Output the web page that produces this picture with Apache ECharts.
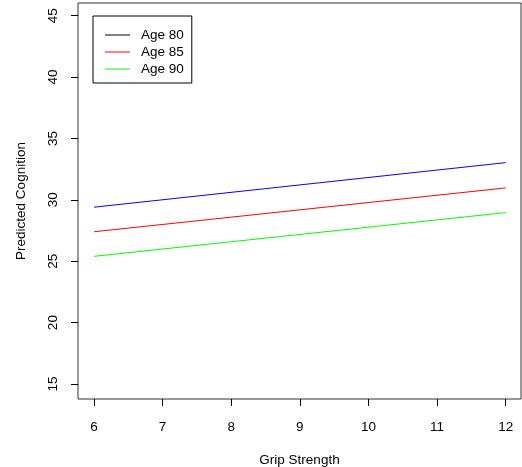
<!DOCTYPE html>
<html>
<head>
<meta charset="utf-8">
<script src="https://cdn.jsdelivr.net/npm/echarts@6/dist/echarts.min.js"></script>
<style>
html,body{margin:0;padding:0;background:#fff;}
#chart{width:522px;height:467px;}
</style>
</head>
<body>
<div id="chart"></div>
<script>
var gripStrength = [6, 12];
var age80 = [29.4, 33.03];
var age85 = [27.4, 30.97];
var age90 = [25.4, 28.96];
var seriesNames = ['Age 80', 'Age 85', 'Age 90'];
var xTicks = [6, 7, 8, 9, 10, 11, 12];
var yTicks = [15, 20, 25, 30, 35, 40, 45];

function pairs(xs, ys) {
  return xs.map(function (x, i) { return [x, ys[i]]; });
}

var FONT = '"Liberation Sans", Arial, sans-serif';
var FS = 13.5;
var chart = echarts.init(document.getElementById('chart'), null, {renderer: 'canvas'});
chart.setOption({
  animation: false,
  backgroundColor: '#fff',
  grid: {
    left: 78, top: 3, width: 443, height: 396,
    outerBoundsMode: 'none',
    containLabel: false,
    show: true, borderColor: '#333', borderWidth: 1, backgroundColor: 'transparent'
  },
  legend: {
    orient: 'vertical',
    left: 93, top: 16,
    padding: [12, 8, 7, 12],
    borderColor: '#000', borderWidth: 1,
    backgroundColor: '#fff',
    icon: 'rect',
    itemWidth: 25, itemHeight: 1,
    itemGap: 3,
    textStyle: {fontFamily: FONT, fontSize: FS, color: '#000', lineHeight: 14, padding: [0, 0, 0, 6]},
    data: [
      {name: seriesNames[0], itemStyle: {color: '#000'}},
      {name: seriesNames[1], itemStyle: {color: '#FF0000'}},
      {name: seriesNames[2], itemStyle: {color: '#00FF00'}}
    ]
  },
  xAxis: {
    type: 'value',
    min: 5.767, max: 12.223,
    name: 'Grip Strength',
    nameLocation: 'middle',
    nameGap: 54,
    nameTextStyle: {fontFamily: FONT, fontSize: FS, color: '#000'},
    axisLine: {show: false},
    splitLine: {show: false},
    axisTick: {show: true, length: 7, customValues: xTicks, lineStyle: {color: '#000'}},
    axisLabel: {customValues: xTicks, margin: 21, fontFamily: FONT, fontSize: FS, color: '#000'}
  },
  yAxis: {
    type: 'value',
    min: 13.78, max: 46.03,
    name: 'Predicted Cognition',
    nameLocation: 'middle',
    nameGap: 50,
    nameRotate: 90,
    nameTextStyle: {fontFamily: FONT, fontSize: FS, color: '#000'},
    axisLine: {show: false},
    splitLine: {show: false},
    axisTick: {show: true, length: 7, customValues: yTicks, lineStyle: {color: '#000'}},
    axisLabel: {customValues: yTicks, rotate: 90, margin: 18, fontFamily: FONT, fontSize: FS, color: '#000'}
  },
  series: [
    {name: seriesNames[0], type: 'line', data: pairs(gripStrength, age80), symbol: 'none',
     lineStyle: {color: '#0000FF', width: 1}, itemStyle: {color: '#0000FF'}},
    {name: seriesNames[1], type: 'line', data: pairs(gripStrength, age85), symbol: 'none',
     lineStyle: {color: '#FF0000', width: 1}, itemStyle: {color: '#FF0000'}},
    {name: seriesNames[2], type: 'line', data: pairs(gripStrength, age90), symbol: 'none',
     lineStyle: {color: '#00FF00', width: 1}, itemStyle: {color: '#00FF00'}}
  ]
});
</script>
</body>
</html>
